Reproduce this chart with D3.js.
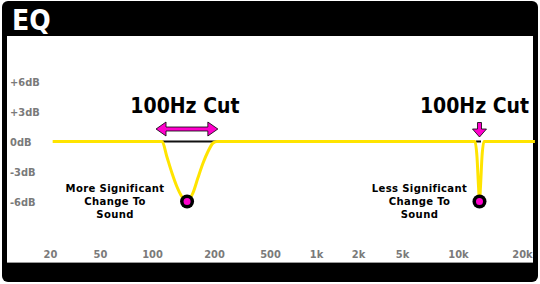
<!DOCTYPE html>
<html><head><meta charset="utf-8">
<script src="https://cdn.jsdelivr.net/npm/d3@7"></script>
<style>html,body{margin:0;padding:0;background:#fff;} svg{display:block}</style>
</head><body>
<svg id="c" width="540" height="284"></svg>
<script>
// ---- data ----
const freqTicks = [20, 50, 100, 200, 500, 1000, 2000, 5000, 10000, 20000];
const freqTickLabels = ["20", "50", "100", "200", "500", "1k", "2k", "5k", "10k", "20k"];
const gainTicks = [6, 3, 0, -3, -6];
const gainTickLabels = ["+6dB", "+3dB", "0dB", "-3dB", "-6dB"];
const curveFreq = [21, 112, 118, 125, 132, 140, 148, 158, 167, 177, 187, 198, 210,
                   12020, 12280, 12490, 12620, 12760, 12970, 13250, 23000];
const curveGain = [0, 0, -1.5, -3.15, -4.5, -5.55, -6, -5.15, -3.65, -2.15, -1.0, -0.15, 0,
                   0, -1.5, -4.5, -6, -4.5, -1.5, 0, 0];
const cutLabels = ["100Hz Cut", "100Hz Cut"];
const cutFreq = [148, 12620];
const cutGain = [-6, -6];
const cutBridgeLow = [110, 12150];
const cutBridgeHigh = [210, 12830];
const cutArrowLow = [104.6, 12620];
const cutArrowHigh = [213, 12620];
const cutArrowType = ["double", "down"];
const cutNotes = [["More Significant", "Change To", "Sound"], ["Less Significant", "Change To", "Sound"]];
const title = "EQ";

// ---- layout ----
const svg = d3.select("#c");
const FONT = "'DejaVu Sans Condensed','DejaVu Sans',sans-serif";
const YEL = "#ffe400", MAG = "#ff00cc", GRAY = "#7a7a7a";

const x = d3.scaleLog()
  .domain(freqTicks)
  .range([50, 100, 152, 214, 270, 316, 358, 402, 458, 522]);
const y = d3.scaleLinear().domain([-6, 6]).range([201.5, 81.5]);

// frame
svg.append("rect").attr("x", 2).attr("y", 1).attr("width", 536).attr("height", 281)
  .attr("rx", 6).attr("fill", "#000");
svg.append("rect").attr("x", 7).attr("y", 36).attr("width", 526).attr("height", 227).attr("fill", "#fff");
svg.append("line").attr("x1", 7).attr("x2", 533).attr("y1", 262.5).attr("y2", 262.5)
  .attr("stroke", "#9a9a9a").attr("stroke-width", 1);

svg.append("text").attr("x", 12).attr("y", 30).text(title)
  .attr("font-family", FONT).attr("font-weight", "bold").attr("font-size", 28).attr("fill", "#fff");

// axes
const xAxis = d3.axisBottom(x).tickValues(freqTicks)
  .tickFormat((d, i) => freqTickLabels[i]).tickSize(0).tickPadding(0);
const gx = svg.append("g").attr("transform", "translate(0,250)").call(xAxis);
gx.select(".domain").remove();
gx.selectAll("text").attr("font-family", FONT).attr("font-weight", "bold")
  .attr("font-size", 11).attr("fill", GRAY).attr("dy", "0.71em");

const yAxis = d3.axisLeft(y).tickValues(gainTicks)
  .tickFormat((d, i) => gainTickLabels[i]).tickSize(0).tickPadding(0);
const gy = svg.append("g").attr("transform", "translate(10,0)").call(yAxis);
gy.select(".domain").remove();
gy.selectAll("text").attr("font-family", FONT).attr("font-weight", "bold")
  .attr("font-size", 11).attr("fill", GRAY).attr("text-anchor", "start").attr("x", 0);

// bridge lines at 0 dB
cutFreq.forEach((f, i) => {
  svg.append("line")
    .attr("x1", x(cutBridgeLow[i])).attr("x2", x(cutBridgeHigh[i]))
    .attr("y1", y(0)).attr("y2", y(0))
    .attr("stroke", "#111").attr("stroke-width", 2);
});

// curve
const pts = curveFreq.map((f, i) => [f, curveGain[i]]);
svg.append("path").datum(pts)
  .attr("d", d3.line().x(d => x(d[0])).y(d => y(d[1])).curve(d3.curveMonotoneX))
  .attr("fill", "none").attr("stroke", YEL).attr("stroke-width", 3).attr("stroke-linejoin", "round");

// annotations
const noteOffset = [72, 60];
cutFreq.forEach((f, i) => {
  const cx = x(f), cy = y(cutGain[i]);
  const labX = (x(cutArrowLow[i]) + x(cutArrowHigh[i])) / 2 - (cutArrowType[i] === "down" ? 5 : 2);
  svg.append("text").attr("x", labX).attr("y", 113).attr("text-anchor", "middle")
    .attr("font-family", FONT).attr("font-weight", "bold").attr("font-size", 21).attr("fill", "#000")
    .text(cutLabels[i]);
  const ay = 129;
  if (cutArrowType[i] === "double") {
    const a = x(cutArrowLow[i]), b = x(cutArrowHigh[i]);
    const hl = 10, hh = 7, sh = 2;
    const p = [[a, ay], [a + hl, ay - hh], [a + hl, ay - sh], [b - hl, ay - sh], [b - hl, ay - hh], [b, ay],
               [b - hl, ay + hh], [b - hl, ay + sh], [a + hl, ay + sh], [a + hl, ay + hh]];
    svg.append("path").attr("d", "M" + p.join("L") + "Z")
      .attr("fill", MAG).attr("stroke", "#000").attr("stroke-width", 0.8).attr("stroke-linejoin", "round");
  } else {
    const ax = x(cutArrowLow[i]);
    const top = 122.5, bot = 137, hl = 8, hw = 7, sw = 2;
    const p = [[ax - sw, top], [ax + sw, top], [ax + sw, bot - hl], [ax + hw, bot - hl], [ax, bot],
               [ax - hw, bot - hl], [ax - sw, bot - hl]];
    svg.append("path").attr("d", "M" + p.join("L") + "Z")
      .attr("fill", MAG).attr("stroke", "#000").attr("stroke-width", 0.8).attr("stroke-linejoin", "round");
  }
  svg.append("circle").attr("cx", cx).attr("cy", cy).attr("r", 7).attr("fill", "#000");
  svg.append("circle").attr("cx", cx).attr("cy", cy).attr("r", 3.5).attr("fill", MAG);
  const t = svg.append("text").attr("text-anchor", "middle")
    .attr("font-family", FONT).attr("font-weight", "bold").attr("font-size", 11.2)
    .attr("letter-spacing", 0.35).attr("fill", "#000");
  cutNotes[i].forEach((line, j) => {
    t.append("tspan").attr("x", cx - noteOffset[i]).attr("y", 191.5 + j * 13.3).text(line);
  });
});
</script>
</body></html>
